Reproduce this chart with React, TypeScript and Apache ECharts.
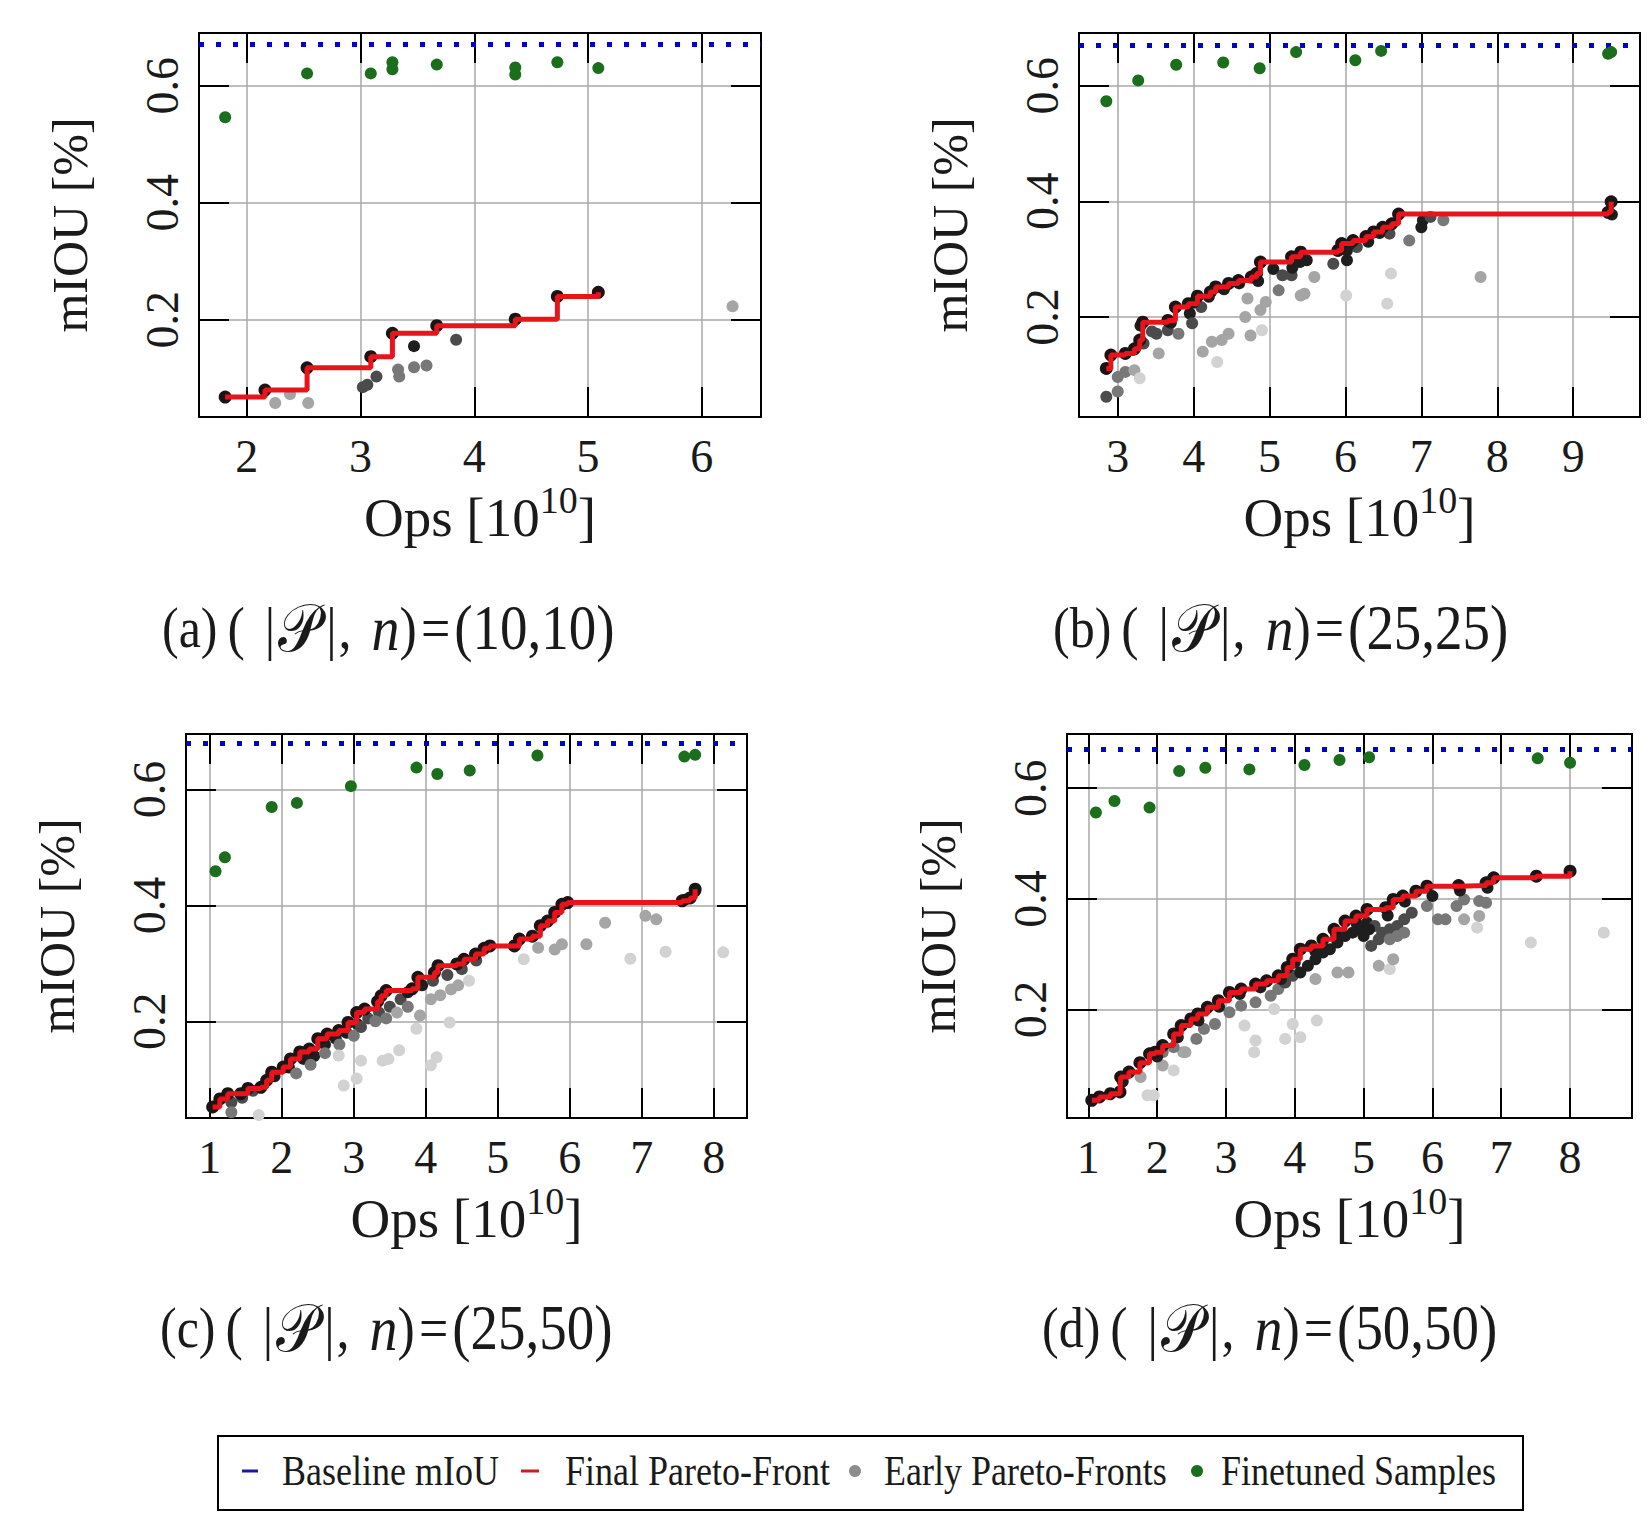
import React, { useEffect, useRef } from "react";
import * as echarts from "echarts";

const SERIF = "'Liberation Serif', 'Times New Roman', serif";
const SCRIPT = "'DejaVu Serif', 'DejaVu Sans', serif";

// ---------- tick labels ----------
const xTicksA = [2, 3, 4, 5, 6];
const xTicksB = [3, 4, 5, 6, 7, 8, 9];
const xTicksC = [1, 2, 3, 4, 5, 6, 7, 8];
const xTicksD = [1, 2, 3, 4, 5, 6, 7, 8];
const yTicks = [0.2, 0.4, 0.6];

// ---------- axis ranges ----------
const xRangeA = [1.58, 6.52];
const yRangeA = [0.034, 0.69];
const xRangeB = [2.49, 9.88];
const yRangeB = [0.027, 0.691];
const xRangeC = [0.67, 8.46];
const yRangeC = [0.033, 0.696];
const xRangeD = [0.69, 8.9];
const yRangeD = [0.004, 0.698];

// ---------- baseline mIoU ----------
const baselineA = 0.669;
const baselineB = 0.671;
const baselineC = 0.675;
const baselineD = 0.674;

// ---------- subtitles ----------
const subtitleA = ["(a)", "10,10"];
const subtitleB = ["(b)", "25,25"];
const subtitleC = ["(c)", "25,50"];
const subtitleD = ["(d)", "50,50"];

// ---------- legend ----------
const legendNames = ["Baseline mIoU", "Final Pareto-Front", "Early Pareto-Fronts", "Finetuned Samples"];

// ---------- panel (a) ----------
const greenA = [
  [1.81, 0.546], [2.53, 0.621], [3.09, 0.621], [3.28, 0.64], [3.28, 0.628],
  [3.67, 0.636], [4.36, 0.631], [4.36, 0.619], [4.73, 0.64], [5.09, 0.63],
];
const frontA = [
  [1.81, 0.068], [2.16, 0.08], [2.53, 0.118], [3.09, 0.137], [3.28, 0.177],
  [3.67, 0.19], [4.36, 0.201], [4.73, 0.24], [5.09, 0.247],
];
// [ops, mIoU, iteration (1 = earliest, 5 = latest)]
const earlyA = [
  [2.25, 0.058, 2], [2.38, 0.073, 2], [2.54, 0.058, 2], [3.02, 0.085, 4], [3.06, 0.089, 4],
  [3.14, 0.103, 4], [3.33, 0.115, 3], [3.34, 0.103, 3], [3.47, 0.155, 5], [3.47, 0.119, 3],
  [3.58, 0.122, 3], [3.84, 0.166, 4], [6.27, 0.223, 2],
];

// ---------- panel (b) ----------
const greenB = [
  [2.85, 0.573], [3.27, 0.609], [3.77, 0.636], [4.39, 0.64], [4.87, 0.63],
  [5.35, 0.658], [6.13, 0.644], [6.47, 0.66], [9.46, 0.655], [9.5, 0.658],
];
const frontB = [
  [2.85, 0.111], [2.91, 0.134], [3.1, 0.137], [3.22, 0.145], [3.29, 0.16], [3.33, 0.191],
  [3.66, 0.194], [3.76, 0.217], [3.93, 0.223], [4.05, 0.236], [4.22, 0.243], [4.29, 0.252],
  [4.46, 0.258], [4.59, 0.263], [4.76, 0.269], [4.83, 0.275], [4.88, 0.295], [5.29, 0.304],
  [5.41, 0.312], [5.9, 0.315], [5.95, 0.327], [6.1, 0.332], [6.27, 0.339], [6.37, 0.347],
  [6.49, 0.355], [6.61, 0.361], [6.7, 0.378], [9.46, 0.381], [9.5, 0.399],
];
const earlyB = [
  [2.85, 0.062, 4], [3.0, 0.071, 3], [3.0, 0.096, 3], [3.1, 0.105, 3], [3.22, 0.108, 2],
  [3.29, 0.094, 1], [3.34, 0.154, 4], [3.51, 0.171, 4], [3.66, 0.177, 4], [3.8, 0.171, 3],
  [3.54, 0.137, 2], [3.95, 0.206, 5], [3.98, 0.189, 4], [4.1, 0.217, 4], [4.12, 0.14, 2],
  [4.24, 0.157, 2], [4.31, 0.122, 1], [4.37, 0.16, 2], [4.46, 0.171, 2], [4.68, 0.2, 2],
  [4.71, 0.232, 2], [4.75, 0.168, 2], [4.88, 0.212, 2], [4.9, 0.177, 1], [4.95, 0.226, 2],
  [4.8, 0.269, 5], [5.05, 0.283, 5], [5.17, 0.272, 4], [5.29, 0.272, 4], [5.12, 0.246, 3],
  [5.41, 0.237, 2], [5.46, 0.24, 2], [5.59, 0.269, 2], [5.49, 0.298, 5], [5.84, 0.292, 4],
  [6.02, 0.298, 5], [6.02, 0.315, 5], [6.15, 0.321, 4], [6.01, 0.237, 1], [6.55, 0.223, 1],
  [6.6, 0.275, 1], [6.58, 0.344, 4], [6.84, 0.332, 3], [7.0, 0.355, 5], [7.02, 0.367, 5],
  [7.12, 0.373, 4], [7.29, 0.367, 3], [7.78, 0.269, 2], [9.51, 0.377, 5],
  [3.3, 0.185, 5], [3.45, 0.175, 4], [3.7, 0.19, 5], [4.0, 0.225, 5], [4.2, 0.235, 5],
  [4.4, 0.248, 5], [4.6, 0.258, 5], [4.85, 0.262, 5], [5.3, 0.285, 5], [5.4, 0.295, 5],
  [6.05, 0.325, 5], [6.3, 0.33, 5], [6.45, 0.345, 5],
];

// ---------- panel (c) ----------
const greenC = [
  [1.08, 0.459], [1.21, 0.483], [1.86, 0.57], [2.21, 0.577], [2.96, 0.606], [3.87, 0.638],
  [4.16, 0.627], [4.61, 0.633], [5.55, 0.659], [7.59, 0.657], [7.74, 0.66],
];
const frontC = [
  [1.04, 0.052], [1.14, 0.066], [1.25, 0.075], [1.43, 0.075], [1.53, 0.084], [1.71, 0.086],
  [1.79, 0.098], [1.86, 0.112], [2.02, 0.121], [2.12, 0.135], [2.25, 0.147], [2.38, 0.152],
  [2.5, 0.17], [2.63, 0.178], [2.79, 0.184], [2.92, 0.198], [3.04, 0.215], [3.15, 0.221],
  [3.33, 0.234], [3.38, 0.244], [3.45, 0.253], [3.81, 0.256], [3.89, 0.276], [4.12, 0.284],
  [4.17, 0.296], [4.43, 0.299], [4.53, 0.307], [4.69, 0.316], [4.81, 0.326], [4.89, 0.33],
  [5.23, 0.33], [5.3, 0.342], [5.48, 0.347], [5.59, 0.365], [5.69, 0.373], [5.79, 0.388],
  [5.89, 0.402], [5.97, 0.405], [7.56, 0.408], [7.67, 0.413], [7.74, 0.428],
];
const earlyC = [
  [1.3, 0.06, 4], [1.45, 0.068, 4], [1.6, 0.08, 4], [1.9, 0.105, 5], [2.1, 0.12, 5],
  [2.3, 0.135, 5], [2.45, 0.14, 5], [2.6, 0.16, 5], [2.75, 0.17, 5], [2.9, 0.18, 5],
  [3.05, 0.195, 5], [3.2, 0.205, 4], [3.35, 0.215, 4], [3.5, 0.225, 4], [3.65, 0.238, 4],
  [3.75, 0.25, 5], [3.95, 0.262, 5], [4.1, 0.27, 4], [4.3, 0.28, 4], [4.5, 0.29, 4],
  [4.7, 0.305, 4], [1.3, 0.043, 3], [1.68, 0.038, 1], [2.2, 0.11, 3], [2.4, 0.125, 3],
  [2.6, 0.145, 3], [2.8, 0.16, 3], [3.0, 0.175, 3], [3.1, 0.19, 4], [3.3, 0.2, 3],
  [3.45, 0.205, 3], [3.6, 0.215, 2], [3.75, 0.225, 3], [3.92, 0.21, 2], [4.07, 0.238, 2],
  [4.2, 0.245, 2], [4.35, 0.255, 2], [4.45, 0.262, 2], [4.6, 0.27, 1], [3.87, 0.187, 1],
  [4.33, 0.198, 1], [2.86, 0.089, 1], [3.04, 0.101, 1], [3.1, 0.132, 1], [3.4, 0.132, 1],
  [3.48, 0.135, 1], [3.63, 0.15, 1], [4.07, 0.124, 1], [4.15, 0.138, 1], [2.79, 0.141, 1],
  [5.36, 0.307, 1], [5.56, 0.327, 2], [5.79, 0.324, 2], [5.89, 0.333, 2], [6.23, 0.333, 2],
  [6.49, 0.37, 2], [6.84, 0.308, 1], [7.05, 0.382, 2], [7.2, 0.376, 2], [7.33, 0.32, 1],
  [8.13, 0.319, 1], [7.6, 0.41, 5], [7.74, 0.425, 5],
];

// ---------- panel (d) ----------
const greenD = [
  [1.11, 0.556], [1.38, 0.577], [1.89, 0.565], [2.32, 0.631], [2.7, 0.637], [3.34, 0.634],
  [4.14, 0.642], [4.65, 0.651], [5.08, 0.656], [7.53, 0.654], [8.0, 0.646],
];
const frontD = [
  [1.05, 0.036], [1.16, 0.042], [1.32, 0.048], [1.46, 0.051], [1.47, 0.078], [1.59, 0.087],
  [1.75, 0.104], [1.89, 0.12], [1.97, 0.123], [2.08, 0.135], [2.24, 0.156], [2.35, 0.171],
  [2.49, 0.183], [2.59, 0.192], [2.73, 0.204], [2.89, 0.216], [3.05, 0.231], [3.22, 0.237],
  [3.43, 0.246], [3.59, 0.252], [3.76, 0.261], [3.89, 0.276], [3.97, 0.291], [4.08, 0.309],
  [4.24, 0.315], [4.41, 0.327], [4.57, 0.345], [4.73, 0.36], [4.89, 0.369], [5.05, 0.381],
  [5.32, 0.384], [5.43, 0.399], [5.57, 0.405], [5.76, 0.414], [5.92, 0.423], [6.38, 0.424],
  [6.78, 0.429], [6.89, 0.438], [7.51, 0.441], [8.0, 0.45],
];
const earlyD = [
  [1.76, 0.078, 2], [1.95, 0.045, 1], [2.08, 0.099, 2], [2.24, 0.09, 1], [2.38, 0.123, 2],
  [2.57, 0.147, 3], [2.68, 0.165, 3], [2.84, 0.174, 3], [3.05, 0.195, 3], [3.22, 0.207, 3],
  [3.43, 0.213, 3], [3.65, 0.225, 3], [3.76, 0.237, 3], [3.86, 0.249, 4], [3.97, 0.261, 4],
  [4.08, 0.267, 5], [4.19, 0.279, 5], [4.3, 0.291, 5], [4.41, 0.303, 5], [4.51, 0.309, 5],
  [4.62, 0.321, 5], [4.73, 0.333, 5], [4.84, 0.339, 5], [4.95, 0.345, 5], [5.05, 0.357, 5],
  [5.16, 0.351, 4], [5.27, 0.339, 4], [5.38, 0.345, 4], [5.49, 0.351, 4], [5.59, 0.363, 4],
  [5.7, 0.375, 4], [5.92, 0.387, 3], [6.08, 0.363, 3], [6.19, 0.363, 3], [6.35, 0.387, 3],
  [6.46, 0.399, 3], [6.46, 0.363, 2], [6.68, 0.396, 3], [6.68, 0.369, 2], [6.78, 0.393, 3],
  [6.65, 0.348, 1], [7.43, 0.321, 1], [8.49, 0.339, 1], [3.27, 0.171, 1], [3.43, 0.144, 1],
  [3.41, 0.123, 1], [3.86, 0.147, 1], [3.97, 0.174, 1], [4.08, 0.15, 1], [4.32, 0.18, 1],
  [3.7, 0.201, 1], [4.3, 0.255, 2], [4.62, 0.267, 2], [4.78, 0.267, 2], [5.22, 0.279, 2],
  [5.38, 0.273, 1], [5.43, 0.291, 2], [5.0, 0.333, 5], [5.08, 0.345, 5], [5.11, 0.315, 4],
  [5.22, 0.327, 4], [5.38, 0.327, 3], [5.49, 0.333, 3], [5.59, 0.339, 3], [1.86, 0.045, 1],
  [2.08, 0.123, 3], [2.24, 0.132, 3], [2.41, 0.123, 2], [1.5, 0.07, 5], [2.0, 0.115, 5],
  [2.3, 0.15, 5], [2.6, 0.18, 5], [2.9, 0.205, 5], [3.2, 0.228, 5], [3.5, 0.24, 5],
  [3.8, 0.255, 5], [4.0, 0.285, 5], [4.3, 0.305, 5], [4.6, 0.335, 5], [4.9, 0.355, 5],
  [5.35, 0.37, 5], [5.6, 0.395, 5], [6.0, 0.405, 5], [6.4, 0.415, 5], [6.8, 0.42, 5],
];

const panels = [
  { xTicks: xTicksA, xRange: xRangeA, yRange: yRangeA, base: baselineA, green: greenA, front: frontA, early: earlyA, sub: subtitleA },
  { xTicks: xTicksB, xRange: xRangeB, yRange: yRangeB, base: baselineB, green: greenB, front: frontB, early: earlyB, sub: subtitleB },
  { xTicks: xTicksC, xRange: xRangeC, yRange: yRangeC, base: baselineC, green: greenC, front: frontC, early: earlyC, sub: subtitleC },
  { xTicks: xTicksD, xRange: xRangeD, yRange: yRangeD, base: baselineD, green: greenD, front: frontD, early: earlyD, sub: subtitleD },
];

// layout (pixel frames of each plot area and caption anchors)
const frames = [
  { left: 199, top: 33, width: 562, height: 384, capX: 162, capY: 628 },
  { left: 1079, top: 33, width: 561, height: 384, capX: 1053, capY: 628 },
  { left: 186, top: 734, width: 561, height: 384, capX: 160, capY: 1328 },
  { left: 1067, top: 734, width: 565, height: 384, capX: 1042, capY: 1328 },
];

const GREEN = "#1b6e1b";
const RED = "#e8141c";
const BLUE = "#0000cc";
const INK = "#1a1a1a";

function buildOption() {
  const grid: any[] = [];
  const xAxis: any[] = [];
  const yAxis: any[] = [];
  const series: any[] = [];
  const graphic: any[] = [];
  const earlyIdx: number[] = [];

  const tickStyle = { inside: true, length: 30, lineStyle: { color: "#000", width: 2 } };

  panels.forEach((p, i) => {
    const f = frames[i];
    grid.push({
      left: f.left, top: f.top, width: f.width, height: f.height,
      show: true, borderColor: "#000", borderWidth: 2, backgroundColor: "transparent",
    });
    xAxis.push({
      gridIndex: i, type: "value", position: "bottom", min: p.xRange[0], max: p.xRange[1],
      axisLine: { show: false },
      axisTick: { ...tickStyle, customValues: p.xTicks },
      axisLabel: {
        customValues: p.xTicks, fontFamily: SERIF, fontSize: 46, color: INK, margin: 16,
        formatter: (v: number) => String(v),
      },
      splitLine: { show: true, lineStyle: { color: "#a8a8a8", width: 1.5 } },
      name: "Ops [10{sup|10}]",
      nameLocation: "middle",
      nameGap: 64,
      nameTextStyle: {
        fontFamily: SERIF, fontSize: 55, color: INK, lineHeight: 72,
        rich: { sup: { fontFamily: SERIF, fontSize: 38, color: INK, lineHeight: 36, verticalAlign: "top" } },
      },
    });
    xAxis.push({
      gridIndex: i, type: "value", position: "top", min: p.xRange[0], max: p.xRange[1],
      axisLine: { show: false },
      axisTick: { ...tickStyle, customValues: p.xTicks },
      axisLabel: { show: false },
      splitLine: { show: false },
    });
    yAxis.push({
      gridIndex: i, type: "value", position: "left", min: p.yRange[0], max: p.yRange[1],
      axisLine: { show: false },
      axisTick: { ...tickStyle, customValues: yTicks },
      axisLabel: {
        customValues: yTicks, rotate: 90, fontFamily: SERIF, fontSize: 46, color: INK, margin: 14,
        formatter: (v: number) => v.toFixed(1),
      },
      splitLine: { show: true, lineStyle: { color: "#a8a8a8", width: 1.5 } },
      name: "mIOU [%]",
      nameLocation: "middle",
      nameRotate: 90,
      nameGap: 104,
      nameTextStyle: { fontFamily: SERIF, fontSize: 50, color: INK },
    });
    yAxis.push({
      gridIndex: i, type: "value", position: "right", min: p.yRange[0], max: p.yRange[1],
      axisLine: { show: false },
      axisTick: { ...tickStyle, customValues: yTicks },
      axisLabel: { show: false },
      splitLine: { show: false },
    });

    const xi = i * 2;
    const yi = i * 2;
    earlyIdx.push(series.length);
    series.push({
      name: legendNames[2], type: "scatter", xAxisIndex: xi, yAxisIndex: yi,
      data: p.early, symbol: "circle", symbolSize: 12, z: 2,
      itemStyle: { opacity: 1 },
    });
    series.push({
      name: "Final Pareto-Front points", type: "scatter", xAxisIndex: xi, yAxisIndex: yi,
      data: p.front, symbol: "circle", symbolSize: 13, z: 3,
      itemStyle: { color: "#1c1414", opacity: 1 },
    });
    series.push({
      name: legendNames[1], type: "line", xAxisIndex: xi, yAxisIndex: yi,
      data: p.front, step: "end", showSymbol: false, z: 4,
      lineStyle: { color: RED, width: 5 },
    });
    series.push({
      name: legendNames[3], type: "scatter", xAxisIndex: xi, yAxisIndex: yi,
      data: p.green, symbol: "circle", symbolSize: 12, z: 5,
      itemStyle: { color: GREEN, opacity: 1 },
      markLine: {
        silent: true, symbol: ["none", "none"], label: { show: false },
        lineStyle: { color: BLUE, width: 5, type: [5, 12] },
        data: [{ yAxis: p.base, name: legendNames[0] }],
      },
    });

    graphic.push({
      type: "text", x: f.capX, y: f.capY, scaleY: 1.15,
      style: {
        text: `{a|${p.sub[0]}}{o|(}{bar||}{p|𝒫}{bar2||}{c|,}{n|n}{e|)}{eq|=}{v|(${p.sub[1]})}`,
        fontFamily: SERIF, fontSize: 51, fill: INK,
        align: "left", verticalAlign: "middle",
        rich: {
          a: { fontFamily: SERIF, fontSize: 50, fill: INK },
          o: { fontFamily: SERIF, fontSize: 52, fill: INK, padding: [0, 0, 0, 10] },
          bar: { fontFamily: SERIF, fontSize: 52, fill: INK, padding: [0, 0, 0, 20] },
          p: { fontFamily: SCRIPT, fontSize: 58, fill: INK, padding: [0, 0, 0, 3] },
          bar2: { fontFamily: SERIF, fontSize: 52, fill: INK, padding: [0, 0, 0, 6] },
          c: { fontFamily: SERIF, fontSize: 52, fill: INK, padding: [0, 0, 0, 2] },
          n: { fontFamily: SERIF, fontStyle: "italic", fontSize: 56, fill: INK, padding: [0, 0, 0, 20] },
          e: { fontFamily: SERIF, fontSize: 52, fill: INK },
          eq: { fontFamily: SERIF, fontSize: 52, fill: INK, padding: [0, 4, 0, 4] },
          v: { fontFamily: SERIF, fontSize: 55, fill: INK },
        },
      },
    });
  });

  // legend
  const ly = 1471;
  const legendText = (x: number, t: string) => ({
    type: "text", x, y: ly, scaleY: 1.2,
    style: { text: t, fontFamily: SERIF, fontSize: 36, fill: INK, verticalAlign: "middle" },
  });
  graphic.push(
    { type: "rect", shape: { x: 218, y: 1436, width: 1305, height: 74 }, style: { fill: "none", stroke: "#000", lineWidth: 2 } },
    { type: "line", shape: { x1: 242, y1: ly, x2: 258, y2: ly }, style: { stroke: "#1a1aa0", lineWidth: 3 } },
    legendText(282, legendNames[0]),
    { type: "line", shape: { x1: 521, y1: ly, x2: 539, y2: ly }, style: { stroke: "#c02020", lineWidth: 3 } },
    legendText(565, legendNames[1]),
    { type: "circle", shape: { cx: 855, cy: ly, r: 6 }, style: { fill: "#8c8c8c" } },
    legendText(884, legendNames[2]),
    { type: "circle", shape: { cx: 1197, cy: ly, r: 6 }, style: { fill: GREEN } },
    legendText(1221, legendNames[3]),
  );

  return {
    animation: false,
    backgroundColor: "#ffffff",
    grid, xAxis, yAxis, series, graphic,
    visualMap: {
      show: false, type: "continuous", seriesIndex: earlyIdx, dimension: 2, min: 1, max: 5,
      inRange: { color: ["#d2d2d2", "#1e1e1e"] },
    },
  };
}

export default function App() {
  const ref = useRef<HTMLDivElement>(null);
  useEffect(() => {
    document.body.style.margin = "0";
    const chart = echarts.init(ref.current as HTMLDivElement, undefined, { renderer: "svg" });
    chart.setOption(buildOption() as any);
    return () => chart.dispose();
  }, []);
  return <div ref={ref} style={{ width: 1650, height: 1520 }} />;
}
